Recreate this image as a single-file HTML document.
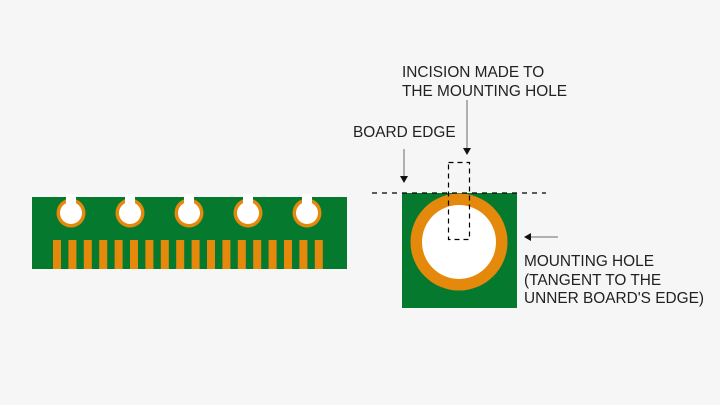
<!DOCTYPE html>
<html><head><meta charset="utf-8"><style>
html,body{margin:0;padding:0;background:#f6f6f6;}
svg{display:block;}
text{font-family:"Liberation Sans",sans-serif;font-size:15.4px;fill:#222;}
</style></head><body>
<svg width="720" height="405" viewBox="0 0 720 405" xmlns="http://www.w3.org/2000/svg">
<rect width="720" height="405" fill="#f6f6f6"/>
<rect x="32" y="197" width="315" height="72" fill="#057a2e"/>
<g fill="#e5890c">
<rect x="53" y="240" width="8" height="29"/><rect x="68.4" y="240" width="8" height="29"/><rect x="83.8" y="240" width="8" height="29"/><rect x="99.2" y="240" width="8" height="29"/><rect x="114.6" y="240" width="8" height="29"/><rect x="130" y="240" width="8" height="29"/><rect x="145.4" y="240" width="8" height="29"/><rect x="160.8" y="240" width="8" height="29"/><rect x="176.2" y="240" width="8" height="29"/><rect x="191.6" y="240" width="8" height="29"/><rect x="207" y="240" width="8" height="29"/><rect x="222.4" y="240" width="8" height="29"/><rect x="237.8" y="240" width="8" height="29"/><rect x="253.2" y="240" width="8" height="29"/><rect x="268.6" y="240" width="8" height="29"/><rect x="284" y="240" width="8" height="29"/><rect x="299.4" y="240" width="8" height="29"/><rect x="314.8" y="240" width="8" height="29"/>
</g>
<g>
<circle cx="71" cy="213" r="14.5" fill="#e5890c"/><circle cx="71" cy="213" r="11" fill="#fff"/><rect x="66" y="194" width="10" height="19" fill="#fff"/>
<circle cx="130" cy="213" r="14.5" fill="#e5890c"/><circle cx="130" cy="213" r="11" fill="#fff"/><rect x="125" y="194" width="10" height="19" fill="#fff"/>
<circle cx="189" cy="213" r="14.5" fill="#e5890c"/><circle cx="189" cy="213" r="11" fill="#fff"/><rect x="184" y="194" width="10" height="19" fill="#fff"/>
<circle cx="248" cy="213" r="14.5" fill="#e5890c"/><circle cx="248" cy="213" r="11" fill="#fff"/><rect x="243" y="194" width="10" height="19" fill="#fff"/>
<circle cx="307" cy="213" r="14.5" fill="#e5890c"/><circle cx="307" cy="213" r="11" fill="#fff"/><rect x="302" y="194" width="10" height="19" fill="#fff"/>
</g>
<rect x="402" y="193" width="115" height="115" fill="#057a2e"/>
<circle cx="459" cy="242" r="48.5" fill="#e5890c"/>
<circle cx="459" cy="242" r="37" fill="#fff"/>
<line x1="372" y1="193" x2="546" y2="193" stroke="#000" stroke-width="1.2" stroke-dasharray="5,5"/>
<rect x="448.5" y="162.5" width="21" height="77" fill="none" stroke="#000" stroke-width="1.2" stroke-dasharray="5,4"/>
<line x1="404" y1="149" x2="404" y2="177" stroke="#999" stroke-width="1.5"/>
<polygon points="400,176 408,176 404,183" fill="#111"/>
<line x1="467" y1="100" x2="467" y2="149" stroke="#999" stroke-width="1.5"/>
<polygon points="463,148 471,148 467,155" fill="#111"/>
<line x1="558" y1="237" x2="530" y2="237" stroke="#999" stroke-width="1.5"/>
<polygon points="531,233 531,241 524,237" fill="#111"/>
<text x="402" y="77">INCISION MADE TO</text>
<text x="402" y="96">THE MOUNTING HOLE</text>
<text x="353" y="137">BOARD EDGE</text>
<text x="524" y="266">MOUNTING HOLE</text>
<text x="524" y="285">(TANGENT TO THE</text>
<text x="524" y="303">UNNER BOARD'S EDGE)</text>
</svg>
</body></html>
